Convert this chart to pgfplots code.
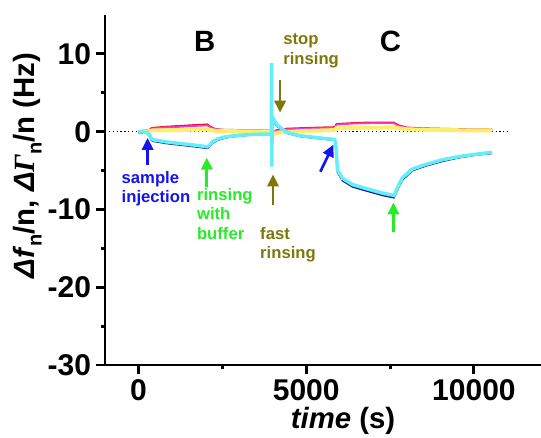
\documentclass[border=0pt]{standalone}
\usepackage{pgfplots}
\pgfplotsset{compat=1.18}
\usepackage{fontspec}
\setmainfont{Liberation Sans}
\newfontfamily\serif{Liberation Serif}
\usetikzlibrary{arrows.meta}

\definecolor{dfcyan}{RGB}{100,238,250}
\definecolor{dfnavy}{RGB}{20,20,140}
\definecolor{dfblue}{RGB}{40,110,220}
\definecolor{dgred}{RGB}{240,20,40}
\definecolor{dgmag}{RGB}{240,60,220}
\definecolor{dgyel}{RGB}{250,240,110}
\definecolor{annblue}{RGB}{20,20,240}
\definecolor{anngreen}{RGB}{40,235,40}
\definecolor{annolive}{RGB}{125,120,10}

\begin{document}
\begin{tikzpicture}
\begin{axis}[
  at={(0,0)}, anchor=south west,
  scale only axis, width=327pt, height=262.5pt,
  xmin=-1000, xmax=12000, ymin=-30, ymax=15,
  axis x line*=bottom, axis y line*=left,
  axis line style={line width=2.2pt},
  xtick={0,5000,10000}, minor xtick={2500,7500},
  ytick={-30,-20,-10,0,10}, minor ytick={-25,-15,-5,5},
  tick align=outside,
  major tick length=7pt, minor tick length=3pt,
  every tick/.style={line width=2.2pt, black},
  scaled x ticks=false,
  xticklabel style={/pgf/number format/set thousands separator={}},
  tick label style={font=\fontsize{22.5}{22.5}\selectfont\bfseries},
  /pgf/number format/assume math mode=true,
  xlabel={\textbf{\textit{time}} \textbf{(s)}},
  ylabel={\textbf{\textit{Δf}\raisebox{-0.25em}{\fontsize{15}{15}\selectfont n}/n, \textit{Δ}{\serif\itshape Γ}\raisebox{-0.25em}{\fontsize{15}{15}\selectfont n}/n (Hz)}},
  label style={font=\fontsize{22}{22}\selectfont},
  xlabel style={at={(axis description cs:0.546,-0.16)}, anchor=center},
  ylabel style={at={(axis description cs:-0.178,0.57)}, anchor=center},
  clip=false,
]
% zero line
\addplot[black, dotted, line width=0.9pt] coordinates {(-1000,0)(11100,0)};

% Delta Gamma overtones
\addplot[dgred, line width=1.2pt] coordinates {
(0,0.1)(300,0.2)(400,0.5)(800,0.65)(1200,0.75)(1600,0.85)(2050,0.95)(2150,0.65)
(2300,0.35)(2600,0.25)(3900,0.2)(3965,0.1)(3975,-2.6)(3990,-0.3)(4100,0.2)
(4400,0.4)(5000,0.5)(5850,0.6)(5900,1.0)(6500,1.15)(7000,1.2)(7600,1.2)
(7750,0.85)(8000,0.55)(8500,0.45)(9500,0.35)(10550,0.3)};
\addplot[dgmag, line width=1.2pt] coordinates {
(0,0.0)(300,0.15)(400,0.4)(800,0.55)(1200,0.6)(1600,0.7)(2050,0.8)(2150,0.55)
(2300,0.3)(2600,0.2)(3900,0.15)(3965,0.05)(3990,-0.2)(4100,0.15)
(4400,0.3)(5000,0.4)(5850,0.5)(5900,0.9)(6500,1.05)(7000,1.1)(7600,1.1)
(7750,0.75)(8000,0.5)(8500,0.4)(9500,0.3)(10550,0.25)};
\addplot[dgyel, line width=3pt] coordinates {
(0,-0.1)(300,0.05)(400,0.15)(1000,0.2)(2050,0.3)(2300,0.1)(3000,0.05)
(3900,0.05)(3965,0.0)(3975,-1.2)(3990,-0.3)(4200,-0.1)(5000,0.1)(5850,0.2)
(5900,0.45)(6500,0.5)(7600,0.55)(8000,0.3)(9000,0.2)(10550,0.15)};

% Delta f overtones
\addplot[dfnavy, line width=1.2pt] coordinates {
(0,-0.1)(250,-0.2)(330,-0.6)(380,-1.1)(450,-1.25)(600,-1.35)(800,-1.5)(1000,-1.6)
(1200,-1.7)(1500,-1.85)(1800,-2.0)(2050,-2.15)(2100,-2.0)(2200,-1.5)(2350,-1.1)
(2500,-0.9)(2700,-0.7)(3000,-0.55)(3300,-0.45)(3600,-0.4)(3960,-0.4)
(3970,6.0)(3985,1.8)(4050,1.3)(4150,0.8)(4300,0.3)(4430,-0.2)(4790,-0.6)
(5290,-0.85)(5850,-1.1)(5890,-2.0)(5930,-5.2)(6080,-6.3)(6380,-7.1)(6780,-7.6)
(7280,-8.2)(7620,-8.5)(7720,-7.5)(7870,-6.2)(8170,-5.0)(8570,-4.4)(9070,-3.8)
(9560,-3.35)(10060,-3.0)(10540,-2.8)};
\addplot[dfblue, line width=1.2pt] coordinates {
(0,-0.05)(250,-0.15)(330,-0.5)(380,-1.0)(450,-1.15)(600,-1.25)(800,-1.4)(1000,-1.5)
(1200,-1.6)(1500,-1.75)(1800,-1.9)(2050,-2.05)(2100,-1.9)(2200,-1.4)(2350,-1.0)
(2500,-0.8)(2700,-0.65)(3000,-0.5)(3300,-0.42)(3600,-0.36)(3960,-0.35)
(3970,7.0)(3985,1.6)(4050,1.1)(4150,0.6)(4300,0.2)(4430,-0.15)(4790,-0.55)
(5290,-0.8)(5850,-1.05)(5890,-2.0)(5930,-5.0)(6080,-6.1)(6380,-6.95)(6780,-7.45)
(7280,-8.05)(7620,-8.35)(7720,-7.35)(7870,-6.05)(8170,-4.9)(8570,-4.3)(9070,-3.7)
(9560,-3.3)(10060,-2.95)(10540,-2.7)};
\addplot[dfcyan, line width=2.6pt] coordinates {
(0,0.0)(150,-0.05)(250,-0.1)(330,-0.4)(380,-0.9)(450,-1.05)(600,-1.15)(800,-1.3)
(1000,-1.4)(1200,-1.5)(1500,-1.65)(1800,-1.8)(2050,-1.95)(2100,-1.8)(2200,-1.3)
(2350,-0.95)(2500,-0.75)(2700,-0.6)(3000,-0.45)(3300,-0.38)(3600,-0.33)(3960,-0.3)
(3968,8.8)(3975,-4.5)(3985,2.0)(4050,1.4)(4150,0.8)(4300,0.3)(4430,-0.1)
(4790,-0.5)(5290,-0.75)(5850,-1.0)(5890,-2.0)(5930,-4.9)(6080,-6.0)(6380,-6.8)
(6780,-7.3)(7280,-7.9)(7620,-8.2)(7720,-7.2)(7870,-5.9)(8170,-4.8)(8570,-4.2)
(9070,-3.6)(9560,-3.2)(10060,-2.9)(10540,-2.65)};

% letters
\node[font=\fontsize{22}{22}\selectfont\bfseries] at (axis cs:1976,11.6) {B};
\node[font=\fontsize{22}{22}\selectfont\bfseries] at (axis cs:7515,11.6) {C};

% annotations
\tikzset{ann/.style={font=\fontsize{12.5}{14.5}\selectfont\bfseries, align=left, anchor=west, inner sep=0pt}}
\tikzset{arr/.style={line width=2pt, -{Triangle[length=9pt,width=8.5pt]}}}
\node[ann, text=annblue] at (axis cs:-510,-7.3) {sample\\injection};
\node[ann, text=anngreen] at (axis cs:1737,-10.55) {rinsing\\with\\buffer};
\node[ann, text=annolive] at (axis cs:3620,-14.5) {fast\\rinsing};
\node[ann, text=annolive] at (axis cs:4310,10.4) {stop\\rinsing};

\draw[arr, annblue] (axis cs:270,-4.25) -- (axis cs:270,-0.8);
\draw[arr, anngreen] (axis cs:2036,-7.1) -- (axis cs:2036,-3.35);
\draw[arr, annolive] (axis cs:4010,-9.4) -- (axis cs:4010,-5.5);
\draw[arr, annolive] (axis cs:4220,6.7) -- (axis cs:4220,2.45);
\draw[arr, annblue] (axis cs:5420,-5.15) -- (axis cs:5810,-1.67);
\draw[arr, anngreen] (axis cs:7600,-12.9) -- (axis cs:7600,-9.1);
\end{axis}
\pgfresetboundingbox
\path (-78.75pt,-54pt) rectangle (327pt,273.75pt);
\end{tikzpicture}
\end{document}
